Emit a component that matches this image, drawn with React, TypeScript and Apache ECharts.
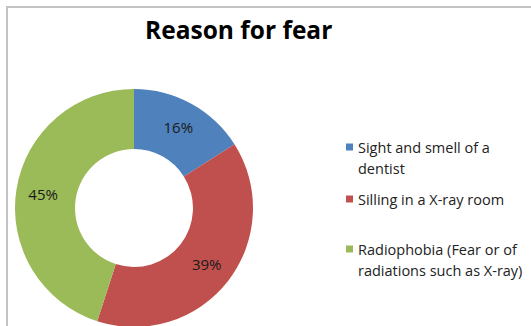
import React, { useEffect, useRef } from "react";
import * as echarts from "echarts";

const title = "Reason for fear";
const categories = [
  "Sight and smell of a\ndentist",
  "Silling in a X-ray room",
  "Radiophobia (Fear or of\nradiations such as X-ray)",
];
const values = [16, 39, 45];
const colors = ["#4F81BD", "#C0504D", "#9BBB59"];

const FONT = "'Open Sans', 'Liberation Sans', sans-serif";

export default function App() {
  const ref = useRef<HTMLDivElement>(null);
  useEffect(() => {
    if (!ref.current) return;
    const chart = echarts.init(ref.current, null, { renderer: "svg" });
    const LH = 21;
    const legendFirstLineY = [147, 199, 249];
    const legends = categories.map((name, i) => {
      const extraLines = name.split("\n").length - 1;
      const blockH = (1 + 2 * extraLines) * LH;
      return {
        orient: "vertical",
        left: 346,
        top: legendFirstLineY[i] - blockH / 2,
        padding: 0,
        itemWidth: 7,
        itemHeight: 7,
        icon: "rect",
        selectedMode: false,
        data: [name],
        // leading blank lines keep the marker level with the first text line
        formatter: (n: string) => "\n".repeat(extraLines) + n,
        textStyle: {
          fontFamily: FONT,
          fontSize: 14.5,
          color: "#222",
          lineHeight: LH,
        },
      };
    });
    chart.setOption({
      animation: false,
      color: colors,
      title: {
        text: title,
        left: 140,
        top: 12,
        textStyle: {
          fontFamily: FONT,
          fontWeight: "bold",
          fontSize: 24.5,
          color: "#000",
        },
      },
      legend: legends,
      graphic: [
        {
          type: "rect",
          shape: { x: 7, y: 7, width: 700, height: 500 },
          style: { fill: "none", stroke: "#c3c3c3", lineWidth: 2 },
          silent: true,
        },
      ],
      series: [
        {
          type: "pie",
          center: [134, 208],
          radius: [59, 119],
          startAngle: 90,
          clockwise: true,
          avoidLabelOverlap: false,
          label: {
            show: true,
            position: "inside",
            formatter: "{c}%",
            fontFamily: FONT,
            fontSize: 15,
            color: "#1a1a1a",
          },
          labelLine: { show: false },
          emphasis: { disabled: true },
          itemStyle: { borderWidth: 0 },
          data: categories.map((name, i) => ({ name, value: values[i] })),
        },
      ],
    });
    return () => chart.dispose();
  }, []);
  return (
    <div
      ref={ref}
      style={{ position: "fixed", left: 0, top: 0, width: 531, height: 326, background: "#fff" }}
    />
  );
}
